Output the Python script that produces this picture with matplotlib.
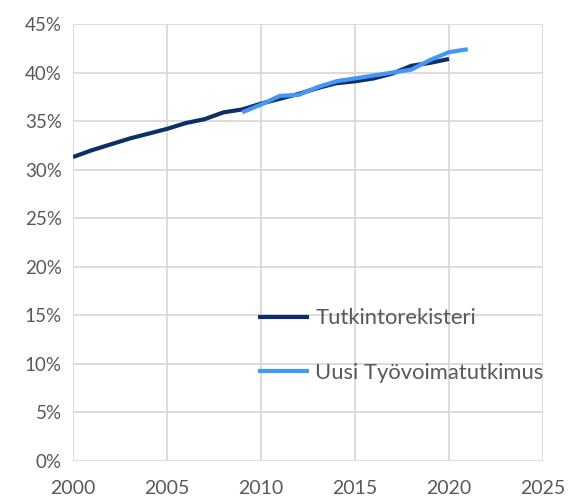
import matplotlib
matplotlib.use("Agg")
import matplotlib.pyplot as plt
from matplotlib.ticker import PercentFormatter

years_tr = list(range(2000, 2021))
tutkintorekisteri = [31.3, 32.0, 32.6, 33.2, 33.7, 34.2, 34.8, 35.2, 35.9, 36.2, 36.8,
                     37.3, 37.8, 38.4, 38.9, 39.1, 39.4, 39.9, 40.7, 41.0, 41.4]
years_tw = list(range(2009, 2022))
uusi_tyovoimatutkimus = [35.9, 36.7, 37.6, 37.7, 38.5, 39.1, 39.4, 39.7, 40.0, 40.3, 41.3, 42.1, 42.4]
series_names = ["Tutkintorekisteri", "Uusi Työvoimatutkimus"]

fig = plt.figure(figsize=(5.70, 5.01), dpi=100)
ax = fig.add_axes([73/570, 40/501, 470/570, 437/501])

ax.plot(years_tr, tutkintorekisteri, color="#0d2f66", lw=3.0, label=series_names[0], solid_capstyle="butt")
ax.plot(years_tw, uusi_tyovoimatutkimus, color="#4596f7", lw=3.0, label=series_names[1], solid_capstyle="butt")

ax.set_xlim(2000, 2025)
ax.set_ylim(0, 45)
ax.set_xticks(range(2000, 2026, 5))
ax.set_yticks(range(0, 46, 5))
ax.yaxis.set_major_formatter(PercentFormatter(decimals=0))
ax.grid(True, color="#d9d9d9", lw=1.3)
ax.set_axisbelow(True)
for s in ax.spines.values():
    s.set_visible(False)
ax.tick_params(length=0, colors="#595959")
ax.tick_params(axis="y", labelsize=13.5, pad=8)
ax.tick_params(axis="x", labelsize=14, pad=14)
for lab in ax.get_xticklabels() + ax.get_yticklabels():
    lab.set_family("Lato")

leg = ax.legend(loc="upper left", bbox_to_anchor=(0.394, 0.349), frameon=False,
                prop={"family": "Lato", "size": 15.8}, labelspacing=1.55,
                handlelength=2.3, handletextpad=0.3, borderpad=0, borderaxespad=0)
for t in leg.get_texts():
    t.set_color("#595959")

fig.savefig("out.png", dpi=100)
